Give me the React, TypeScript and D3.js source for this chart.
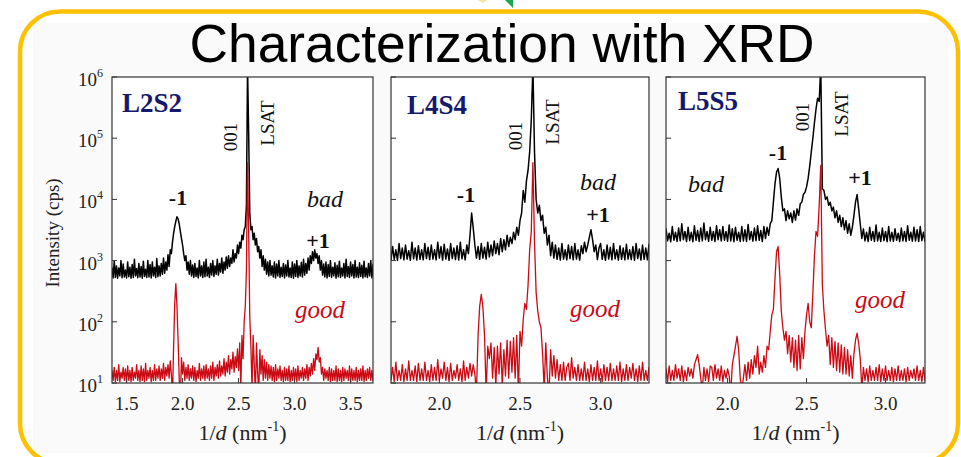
import React from "react";
import * as d3 from "d3";

type Pt = [number, number];

// ---------- DATA ----------
// Each scan is sampled on a uniform 1/d grid (nm^-1): start value + 0.01 step.
// Intensities in cps, one row per 0.1 nm^-1.
const gridStep = 0.01;

const l2s2Start = 1.30;
const l2s2Bad = [
  520,840,530,700,515,900,540,760,520,980,
  530,820,515,760,560,1000,525,880,540,700,
  520,950,545,780,515,860,530,1050,560,740,
  525,900,540,800,515,980,550,720,530,1000,
  540,860,520,950,560,780,530,1080,545,820,
  560,900,600,1100,620,950,700,1250,800,1500,
  1300,2000,2800,3600,4400,5200,4800,4000,3000,2300,
  1800,1300,1000,1200,700,950,600,1000,560,850,
  530,900,550,760,520,1000,560,820,530,950,
  545,1050,560,780,530,900,580,1000,550,820,
  600,1050,580,900,650,1100,620,950,700,1150,
  750,1200,800,1100,900,1500,950,1300,1100,1800,
  1300,2000,1600,2600,2200,3200,3600,8000,1500000,120000,
  6000,3200,3600,2200,2800,1800,2300,1400,1700,1100,
  1500,800,1200,700,1050,600,950,560,1000,580,
  820,540,950,520,880,560,1000,530,780,550,
  900,520,850,560,1000,540,760,530,950,515,
  880,550,1000,530,820,560,940,540,1050,580,
  900,620,1100,700,1200,900,1400,1000,1500,1100,
  1300,900,1200,700,1000,580,880,540,950,520,
  860,550,1000,530,780,560,920,515,840,545,
  980,530,760,560,900,520,1050,550,800,530,
  950,560,860,520,1000,540,780,530,920,550,
  840,520,980,545,760,530,900,560,1000,525,
  860,540,950,520,800,560,900,530,980,540,
];
const l2s2Good = [
  11,17,10.5,15,11,19,10.5,16,11,18,
  10.5,16,11,20,10.5,15,12,18,11,17,
  10.5,19,11,16,10.5,18,11,15,12,20,
  11,16,10.5,19,11,17,10.5,21,11,16,
  12,18,10.5,16,11,20,11,17,12,19,
  11,17,12,21,11,18,13,20,12,23,
  14,6,40,200,420,180,50,12,5,26,
  14,22,11,18,12,20,11,17,12,19,
  11,18,10.5,16,12,21,11,17,12,19,
  11,20,12,17,11,19,12,22,11,18,
  13,20,12,23,13,19,14,25,13,22,
  15,28,14,24,17,32,15,27,18,36,
  16,45,8,60,25,100,180,700,40000,3000,
  120,40,8,60,20,7,45,15,7,35,
  14,28,11,24,12,22,11,20,12,19,
  11,18,10.5,20,11,17,12,19,11,16,
  10.5,18,11,17,11,19,10.5,16,11,18,
  11,17,10.5,19,11,16,12,18,11,17,
  12,20,11,18,13,21,14,25,16,30,
  24,38,22,26,14,18,11,17,12,16,
  11,18,10.5,17,11,16,11,19,10.5,17,
  11,16,10.5,18,11,17,12,16,11,19,
  10.5,17,11,16,11,18,10.5,16,11,17,
  11,19,10.5,16,11,17,12,18,11,16,
  11,17,10.5,18,11,16,11,17,10.5,18,
];

const l4s4Start = 1.70;
const l4s4Bad = [
  1020,1700,1050,1500,1010,1900,1080,1600,1030,1800,
  1060,1450,1010,2000,1070,1600,1020,1750,1050,1500,
  1030,1900,1080,1650,1040,1800,1060,1500,1030,2000,
  1100,1700,1020,1850,1060,1550,1010,1900,1080,1600,
  1040,1750,1020,2000,1070,1500,1030,1800,1300,2600,
  6000,3400,1800,1100,1700,1050,1900,1100,1650,1060,
  2000,1150,1800,1200,2100,1300,1900,1250,2300,1400,
  2200,1500,2600,1700,2400,1900,2900,2200,3500,2600,
  4500,6000,14000,9000,20000,30000,60000,200000,1500000,60000,
  10000,6000,8000,4500,5500,2800,3500,1800,2600,1200,
  2000,1100,1800,1050,1600,1020,1900,1060,1500,1030,
  1800,1080,1700,1030,1900,1060,1500,1020,1750,1300,
  2000,1400,1800,2400,3200,2200,1400,1800,1040,1600,
  1900,1050,1500,1010,1800,1060,1650,1030,1900,1070,
  1500,1020,1750,1050,1600,1030,1850,1060,1500,1040,
  1700,1010,1900,1080,1550,1020,1800,1050,1600,1030,
  1850,1060,1500,1020,1700,1050,1900,1030,1600,1010,
];
const l4s4Good = [
  11,18,10.5,22,11,16,11,20,10.5,17,
  11,23,11,16,11,19,10.5,21,11,17,
  11,22,11,16,10.5,20,11,18,11,24,
  11,17,12,22,11,18,10.5,21,11,16,
  12,20,11,17,10.5,23,11,18,12,21,
  13,20,14,7,60,180,280,170,60,7,
  40,25,45,12,38,9,40,14,45,9,
  35,13,50,12,48,15,55,12,60,7,
  70,40,110,200,160,400,1500,3000,40000,2000,
  300,150,100,80,30,8,45,12,7,35,
  13,28,12,24,11,20,11,22,11,18,
  21,11,26,12,18,11,20,11,17,11,
  22,11,17,10.5,20,11,18,11,23,11,
  17,10.5,20,11,18,11,21,11,17,11,
  19,11,22,10.5,17,11,20,11,18,12,
  21,11,17,10.5,19,11,22,11,16,11,
  18,11,20,10.5,17,11,19,11,16,11,
];

const l5s5Start = 1.60;
const l5s5Bad = [
  2050,3300,2100,2800,2030,3600,2150,2900,2060,3400,
  2100,4000,2200,3000,2050,3500,2120,2900,2040,3700,
  2150,3100,2060,3400,2100,4100,2200,3000,2070,3500,
  2150,3000,2050,3700,2200,3200,2100,3600,2150,3000,
  2080,3800,2100,3300,2040,3500,2150,2900,2060,3600,
  2100,3200,2050,3900,2200,3000,2080,3400,2120,3700,
  2150,3100,2050,3600,2300,3500,2600,4000,4500,9000,
  18000,28000,32000,22000,11000,6500,7000,4500,6500,4800,
  6000,4200,6500,4600,7000,5500,8500,9000,12000,13000,
  16000,22000,35000,60000,100000,180000,300000,450000,400000,1500000,
  15000,14000,10000,11000,8000,9000,6500,7500,5000,6500,
  4200,5500,3600,5000,3200,4500,2800,4000,2600,3500,
  5500,9000,12000,7000,4000,2300,3300,2100,2900,2050,
  3500,2150,3000,2060,3800,2100,2900,2050,3400,2120,
  3000,2040,3600,2100,2900,2070,3300,2150,2800,2050,
  3400,2100,3000,2060,3700,2150,2900,2080,3500,2100,
  3200,2050,3600,2120,2900,2040,3400,2100,3000,2060,
];
const l5s5Good = [
  11,17,10.5,19,11,16,11,20,12,17,
  11,19,10.5,16,11,18,13,17,12,20,
  24,29,20,12,8,18,11,17,10.5,19,
  18,11,20,12,17,11,19,10.5,16,12,
  17,13,7,20,28,40,58,35,12,8,
  12,20,11,22,12,24,14,28,18,40,
  14,22,15,28,18,40,35,70,130,160,
  500,1400,1700,600,150,80,50,70,30,60,
  22,55,18,50,16,60,17,55,25,70,
  130,200,100,80,300,1200,3000,2500,8000,36000,
  400,150,75,40,60,20,55,18,48,16,
  45,15,42,14,38,14,35,13,28,12,
  30,50,65,45,25,8,18,11,17,10.5,
  19,11,16,11,18,11,20,10.5,17,11,
  19,11,16,11,18,10.5,17,11,19,11,
  16,11,17,10.5,18,11,16,12,17,11,
  19,11,16,10.5,18,11,17,11,16,11,
];

const sampleNames = ["L2S2", "L4S4", "L5S5"];
const xDomains: [number, number][] = [[1.37, 3.70], [1.70, 3.30], [1.61, 3.25]];
const xTickValues: number[][] = [[1.5, 2.0, 2.5, 3.0, 3.5], [2.0, 2.5, 3.0], [2.0, 2.5, 3.0]];
const yTickValues = [10, 100, 1000, 10000, 100000, 1000000];
const gridStarts = [l2s2Start, l4s4Start, l5s5Start];
const badSeries = [l2s2Bad, l4s4Bad, l5s5Bad];
const goodSeries = [l2s2Good, l4s4Good, l5s5Good];

const toPoints = (start: number, vals: number[]): Pt[] =>
  vals.map((v, k) => [start + k * gridStep, v]);

// ---------- LAYOUT ----------
const TOP = 77;
const BOTTOM = 383;
const layout = [
  { left: 112, right: 373, name: [122, 112], bad: [307, 207], good: [295, 318], m1: [178, 205], p1: [318, 248], o: [230, 137], ls: [267, 123] },
  { left: 391, right: 649, name: [407, 114], bad: [580, 190], good: [570, 317], m1: [466, 202], p1: [598, 222], o: [515, 136], ls: [552, 122] },
  { left: 666, right: 925, name: [678, 110], bad: [688, 192], good: [855, 308], m1: [778, 160], p1: [860, 185], o: [802, 117], ls: [841, 114] },
];

const SERIF = "'Liberation Serif', 'Times New Roman', serif";
const RED = "#cc0a14";
const NAVY = "#16186c";

function Panel({ i }: { i: number }) {
  const L = layout[i];
  const x = d3.scaleLinear().domain(xDomains[i]).range([L.left, L.right]);
  const y = d3.scaleLog().domain([10, 1e6]).range([BOTTOM, TOP]);
  const line = d3
    .line<Pt>()
    .x((d) => x(d[0]))
    .y((d) => y(Math.max(d[1], 1)));
  const clipId = `clip-${i}`;
  const cx = (L.left + L.right) / 2;
  const bad = toPoints(gridStarts[i], badSeries[i]);
  const good = toPoints(gridStarts[i], goodSeries[i]);
  return (
    <g>
      <defs>
        <clipPath id={clipId}>
          <rect x={L.left} y={TOP} width={L.right - L.left} height={BOTTOM - TOP} />
        </clipPath>
      </defs>
      <rect x={L.left} y={TOP} width={L.right - L.left} height={BOTTOM - TOP} fill="#ffffff" />
      <g clipPath={`url(#${clipId})`}>
        <path d={line(bad) || ""} fill="none" stroke="#000" strokeWidth={1.5} strokeLinejoin="round" />
        <path d={line(good) || ""} fill="none" stroke={RED} strokeWidth={1.3} strokeLinejoin="round" />
      </g>
      <rect x={L.left} y={TOP} width={L.right - L.left} height={BOTTOM - TOP} fill="none" stroke="#333" strokeWidth={1.2} />
      {yTickValues.map((v) => (
        <line key={v} x1={L.left} x2={L.left + 5} y1={y(v)} y2={y(v)} stroke="#333" strokeWidth={1} />
      ))}
      {i === 0 &&
        yTickValues.map((v) => (
          <text key={"l" + v} x={103} y={y(v) + 9} textAnchor="end" fontFamily={SERIF} fontSize={19} fill="#222">
            10
            <tspan dy={-9} fontSize={12}>{Math.round(Math.log10(v))}</tspan>
          </text>
        ))}
      {xTickValues[i].map((v) => (
        <g key={v}>
          <line x1={x(v)} x2={x(v)} y1={BOTTOM} y2={BOTTOM - 5} stroke="#333" strokeWidth={1} />
          <text x={x(v)} y={410} textAnchor="middle" fontFamily={SERIF} fontSize={19} fill="#222">
            {v.toFixed(1)}
          </text>
        </g>
      ))}
      <text x={cx} y={440} textAnchor="middle" fontFamily={SERIF} fontSize={22} fill="#222">
        1/<tspan fontStyle="italic">d</tspan> (nm
        <tspan dy={-9} fontSize={14}>-1</tspan>
        <tspan dy={9}>)</tspan>
      </text>
      <text x={L.name[0]} y={L.name[1]} fontFamily={SERIF} fontWeight="bold" fontSize={27} fill={NAVY}>
        {sampleNames[i]}
      </text>
      <text x={L.bad[0]} y={L.bad[1]} fontFamily={SERIF} fontStyle="italic" fontSize={24} fill="#111">bad</text>
      <text x={L.good[0]} y={L.good[1]} fontFamily={SERIF} fontStyle="italic" fontSize={25} fill={RED}>good</text>
      <text x={L.m1[0]} y={L.m1[1]} textAnchor="middle" fontFamily={SERIF} fontWeight="bold" fontSize={22} fill="#111">-1</text>
      <text x={L.p1[0]} y={L.p1[1]} textAnchor="middle" fontFamily={SERIF} fontWeight="bold" fontSize={22} fill="#111">+1</text>
      <text transform={`translate(${L.o[0]},${L.o[1]}) rotate(-90)`} textAnchor="middle" dy="0.35em" fontFamily={SERIF} fontSize={19} fill="#111">001</text>
      <text transform={`translate(${L.ls[0]},${L.ls[1]}) rotate(-90)`} textAnchor="middle" dy="0.35em" fontFamily={SERIF} fontSize={19} fill="#111">LSAT</text>
    </g>
  );
}

export default function App() {
  return (
    <svg width={961} height={457} style={{ position: "absolute", left: 0, top: 0, display: "block" }}>
      <rect x={0} y={0} width={961} height={457} fill="#ffffff" />
      <rect x={33} y={23} width={915} height={430} fill="#fafafa" />
      <polygon points="478,0 487,0 483,3" fill="#f3e59a" />
      <polygon points="505,0 513,0 513,8" fill="#1ba84a" />
      <rect x={20} y={11.5} width={938} height={452} rx={40} ry={40} fill="none" stroke="#ffc000" strokeWidth={4.5} />
      <text x={502} y={62} textAnchor="middle" fontFamily="'Liberation Sans', Arial, sans-serif" fontSize={54} textLength={625} lengthAdjust="spacingAndGlyphs" fill="#000">
        Characterization with XRD
      </text>
      <text transform="translate(52,233) rotate(-90)" textAnchor="middle" dy="0.35em" fontFamily={SERIF} fontSize={19} fill="#222">
        Intensity (cps)
      </text>
      {[0, 1, 2].map((i) => (
        <Panel key={i} i={i} />
      ))}
    </svg>
  );
}
